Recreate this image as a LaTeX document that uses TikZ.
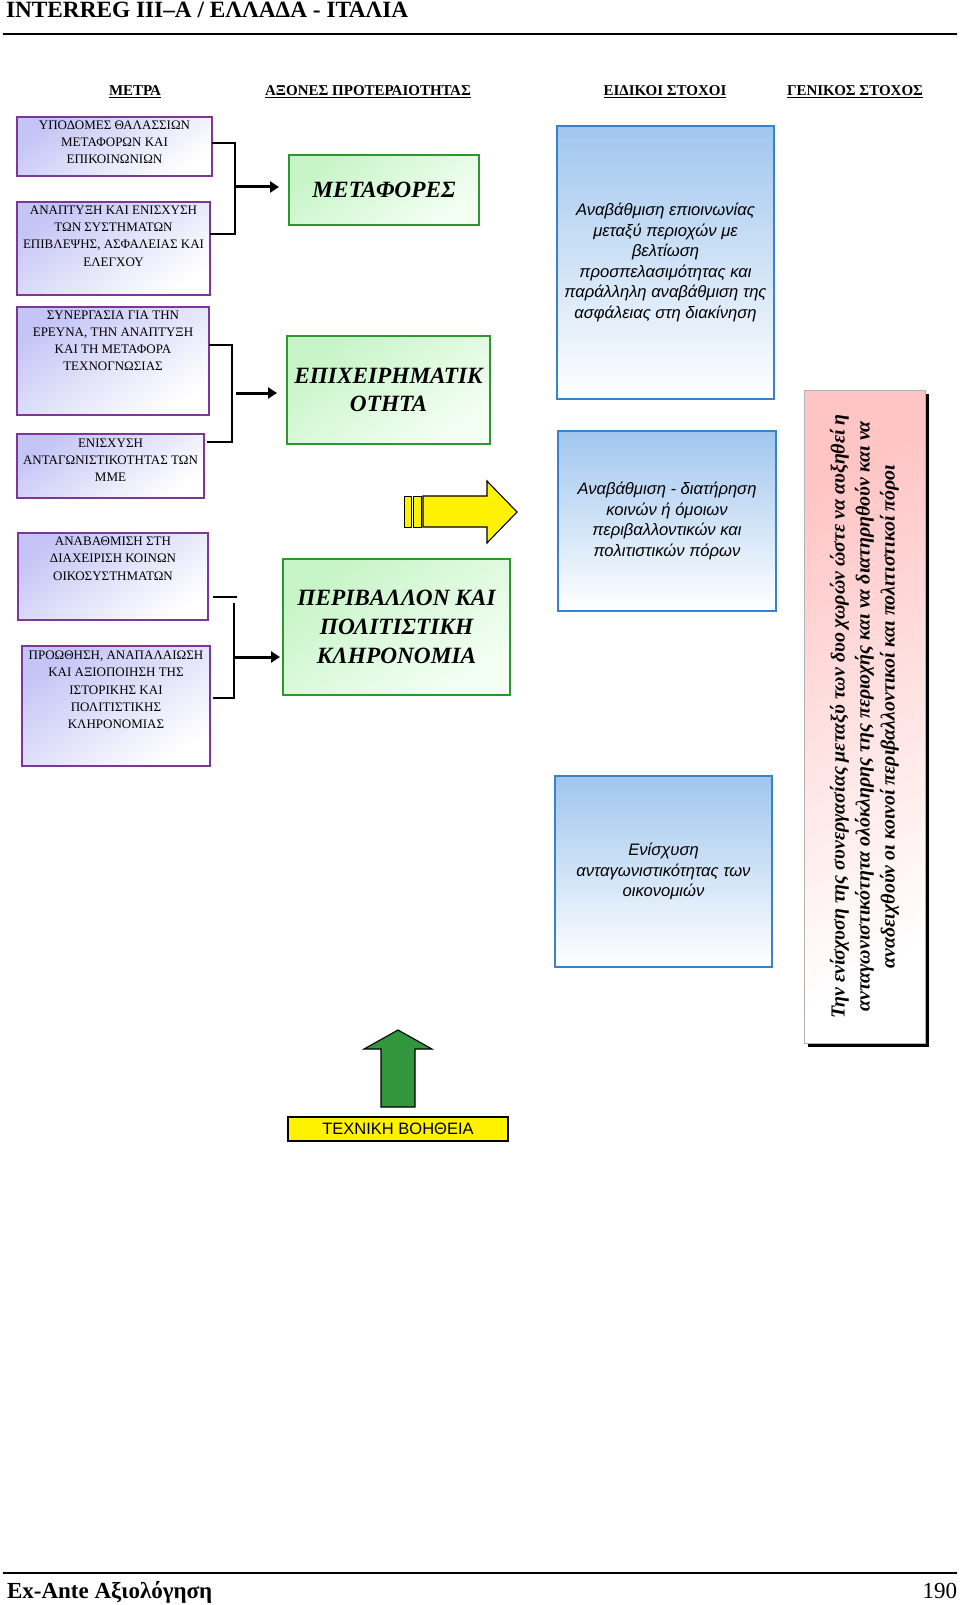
\documentclass[tikz,border=0pt]{standalone}
\usepackage{fontspec}
\setmainfont{Liberation Serif}
\newfontfamily\arialf{Liberation Sans}
\usetikzlibrary{arrows.meta}
\definecolor{purpB}{RGB}{125,55,150}
\definecolor{lav}{RGB}{196,196,246}
\definecolor{grnB}{RGB}{45,150,45}
\definecolor{grnF}{RGB}{198,244,198}
\definecolor{grnF2}{RGB}{244,255,244}
\definecolor{bluB}{RGB}{55,130,205}
\definecolor{bluF}{RGB}{160,198,238}
\definecolor{pinkF}{RGB}{255,196,196}
\definecolor{arrG}{RGB}{50,150,60}
\newcommand\bx[6]{\node[#1, minimum width={(#4)-(#2)}, minimum height={(#5)-(#3)}] (#6) at ({((#2)+(#4))/2},{((#3)+(#5))/2}) {};}
\begin{document}
\begin{tikzpicture}[x=1pt,y=-1pt,
  every node/.style={inner sep=0pt, outer sep=0pt},
  mbox/.style={draw=purpB, line width=1.5pt, top color=lav, bottom color=white, shading angle=35},
  mtext/.style={anchor=north, align=center, font=\fontsize{13}{17.2}\selectfont},
  gbox/.style={draw=grnB, line width=2pt, top color=grnF, bottom color=grnF2, shading angle=35, align=center, font=\fontsize{23.3}{28.7}\selectfont\bfseries\itshape},
  bbox/.style={draw=bluB, line width=2pt, top color=bluF, bottom color=white, align=center, font=\arialf\itshape\fontsize{16.6}{20.5}\selectfont},
  colhead/.style={font=\fontsize{15}{18}\selectfont\bfseries},
  brk/.style={draw, line width=1.2pt},
  fat/.style={draw, line width=3pt, -{Triangle[length=9pt,width=11pt]}},
  blockarrow/.style={draw, line width=1.1pt, line join=miter}
]
\useasboundingbox (0,0) rectangle (960,1605);
\fill[white] (0,0) rectangle (960,1605);

% header and footer
\node[anchor=base west, font=\fontsize{23.3}{26}\selectfont\bfseries] (title) at (6,18) {INTERREG III–A / ΕΛΛΑΔΑ - ΙΤΑΛΙΑ};
\coordinate (hl1) at (3,34);
\coordinate (hl2) at (957,34);
\draw[line width=1.5pt] (hl1) -- (hl2);
\coordinate (fl1) at (3,1573);
\coordinate (fl2) at (957,1573);
\draw[line width=1.5pt] (fl1) -- (fl2);
\node[anchor=base west, font=\fontsize{23}{26}\selectfont\bfseries] (foot) at (7,1598) {Ex-Ante Αξιολόγηση};
\node[anchor=base east, font=\fontsize{23}{26}\selectfont] (page) at (957,1598) {190};

% column headings
\node[colhead] (h1) at (135,92) {\underline{ΜΕΤΡΑ}};
\node[colhead] (h2) at (368,92) {\underline{ΑΞΟΝΕΣ ΠΡΟΤΕΡΑΙΟΤΗΤΑΣ}};
\node[colhead] (h3) at (665,92) {\underline{ΕΙΔΙΚΟΙ ΣΤΟΧΟΙ}};
\node[colhead] (h4) at (855,92) {\underline{ΓΕΝΙΚΟΣ ΣΤΟΧΟΣ}};

% measures
\bx{mbox}{17}{117}{212}{176}{m1}
\bx{mbox}{17}{202}{210}{295}{m2}
\bx{mbox}{17}{307}{209}{415}{m3}
\bx{mbox}{17}{434}{204}{498}{m4}
\bx{mbox}{18}{533}{208}{620}{m5}
\bx{mbox}{22}{646}{210}{766}{m6}
\node[mtext] (m1t) at ([yshift=-3.5pt]m1.north) {ΥΠΟΔΟΜΕΣ ΘΑΛΑΣΣΙΩΝ\\ΜΕΤΑΦΟΡΩΝ ΚΑΙ\\ΕΠΙΚΟΙΝΩΝΙΩΝ};
\node[mtext] (m2t) at ([yshift=-4pt]m2.north) {ΑΝΑΠΤΥΞΗ ΚΑΙ ΕΝΙΣΧΥΣΗ\\ΤΩΝ ΣΥΣΤΗΜΑΤΩΝ\\ΕΠΙΒΛΕΨΗΣ, ΑΣΦΑΛΕΙΑΣ ΚΑΙ\\ΕΛΕΓΧΟΥ};
\node[mtext] (m3t) at ([yshift=-3.5pt]m3.north) {ΣΥΝΕΡΓΑΣΙΑ ΓΙΑ ΤΗΝ\\ΕΡΕΥΝΑ, ΤΗΝ ΑΝΑΠΤΥΞΗ\\ΚΑΙ ΤΗ ΜΕΤΑΦΟΡΑ\\ΤΕΧΝΟΓΝΩΣΙΑΣ};
\node[mtext] (m4t) at ([yshift=-4.5pt]m4.north) {ΕΝΙΣΧΥΣΗ\\ΑΝΤΑΓΩΝΙΣΤΙΚΟΤΗΤΑΣ ΤΩΝ\\ΜΜΕ};
\node[mtext] (m5t) at ([yshift=-4pt]m5.north) {ΑΝΑΒΑΘΜΙΣΗ ΣΤΗ\\ΔΙΑΧΕΙΡΙΣΗ ΚΟΙΝΩΝ\\ΟΙΚΟΣΥΣΤΗΜΑΤΩΝ};
\node[mtext] (m6t) at ([yshift=-5pt]m6.north) {ΠΡΟΩΘΗΣΗ, ΑΝΑΠΑΛΑΙΩΣΗ\\ΚΑΙ ΑΞΙΟΠΟΙΗΣΗ ΤΗΣ\\ΙΣΤΟΡΙΚΗΣ ΚΑΙ\\ΠΟΛΙΤΙΣΤΙΚΗΣ\\ΚΛΗΡΟΝΟΜΙΑΣ};

% priority axes
\node[gbox, minimum width=190, minimum height=70] (g1) at (384,190) {ΜΕΤΑΦΟΡΕΣ};
\node[gbox, minimum width=203, minimum height=108] (g2) at (388.5,390) {ΕΠΙΧΕΙΡΗΜΑΤΙΚ\\ΟΤΗΤΑ};
\node[gbox, minimum width=227, minimum height=136] (g3) at (396.5,627) {ΠΕΡΙΒΑΛΛΟΝ ΚΑΙ\\ΠΟΛΙΤΙΣΤΙΚΗ\\ΚΛΗΡΟΝΟΜΙΑ};

% brackets
\coordinate (k1a) at (235,143);
\coordinate (k1b) at (235,234);
\coordinate (k1m) at (235,187);
\coordinate (k1e) at (279,187);
\draw[brk] (m1.east |- k1a) -- (k1a) -- (k1b) -- (m2.east |- k1b);
\draw[fat] (k1m) -- (k1e);

\coordinate (k2a) at (232,345);
\coordinate (k2b) at (232,442);
\coordinate (k2m) at (236,393);
\coordinate (k2e) at (277,393);
\draw[brk] (m3.east |- k2a) -- (k2a) -- (k2b) -- ([xshift=3pt]m4.east |- k2b);
\draw[fat] (k2m) -- (k2e);

\coordinate (k3t) at (237,597);
\coordinate (k3a) at (234,603);
\coordinate (k3b) at (234,698);
\coordinate (k3m) at (235,657);
\coordinate (k3e) at (280,657);
\draw[brk] ([xshift=5pt]m5.east |- k3t) -- (k3t);
\draw[brk] (k3a) -- (k3b) -- ([xshift=3pt]m6.east |- k3b);
\draw[fat] (k3m) -- (k3e);

% yellow block arrow
\draw[line width=0.8pt, fill=yellow] (404,496) rectangle (411,527);
\draw[line width=0.8pt, fill=yellow] (413,496) rectangle (421,527);
\draw[blockarrow, fill=yellow] (423,496) -- (487,496) -- (487,481) -- (517,512) -- (487,543) -- (487,527) -- (423,527) -- cycle;

% specific objectives
\node[bbox, minimum width=217, minimum height=273] (b1) at (665.5,262.5) {Αναβάθμιση επιοινωνίας\\μεταξύ περιοχών με\\βελτίωση\\προσπελασιμότητας και\\παράλληλη αναβάθμιση της\\ασφάλειας στη διακίνηση};
\node[bbox, minimum width=218, minimum height=180] (b2) at (667,521) {Αναβάθμιση - διατήρηση\\κοινών ή όμοιων\\περιβαλλοντικών και\\πολιτιστικών πόρων};
\node[bbox, minimum width=217, minimum height=191] (b3) at (663.5,871.5) {Ενίσχυση\\ανταγωνιστικότητας των\\οικονομιών};

% general objective
\fill[black] (808,394) rectangle (929,1047);
\node[draw=black!30, line width=0.6pt, top color=pinkF, bottom color=white, shading angle=30, minimum width=121, minimum height=653] (gen) at (864.5,716.5) {};
\node[rotate=90, align=center, font=\fontsize{19.9}{25}\selectfont\bfseries\itshape] (gent) at (gen.center) {Την ενίσχυση της συνεργασίας μεταξύ των δυο χωρών ώστε να αυξηθεί η\\ανταγωνιστικότητα ολόκληρης της περιοχής και να διατηρηθούν και να\\αναδειχθούν οι κοινοί περιβαλλοντικοί και πολιτιστικοί πόροι};

% technical assistance
\draw[blockarrow, fill=arrG] (381,1107) -- (381,1049) -- (364,1049) -- (398,1030) -- (432,1049) -- (415,1049) -- (415,1107) -- cycle;
\node[draw, line width=1.1pt, fill=yellow, minimum width=220, minimum height=24, font=\arialf\fontsize{16.5}{18}\selectfont] (ta) at (398,1129) {ΤΕΧΝΙΚΗ ΒΟΗΘΕΙΑ};
\end{tikzpicture}
\end{document}
